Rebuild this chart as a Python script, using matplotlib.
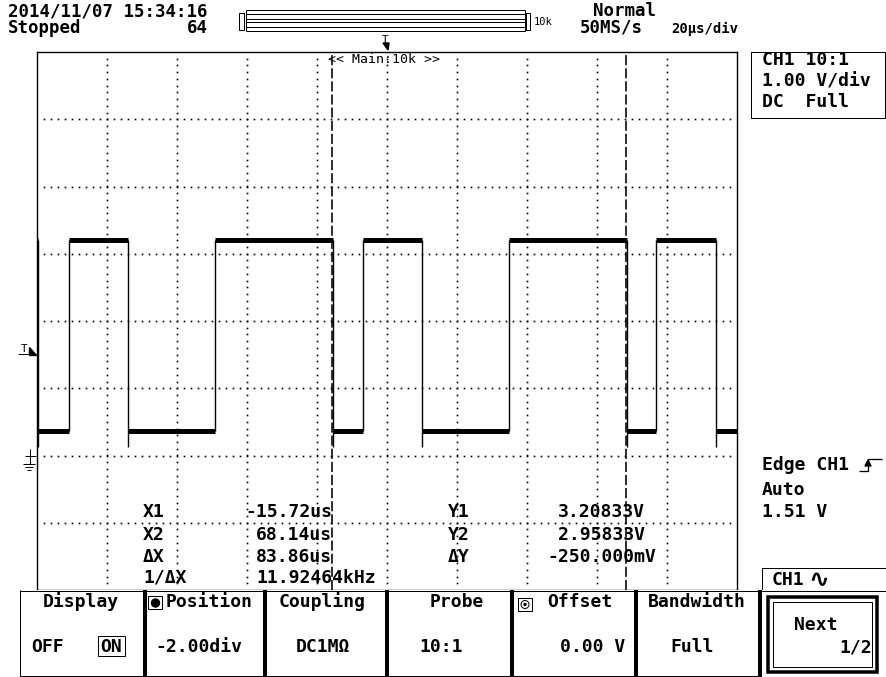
import numpy as np
import matplotlib.pyplot as plt
from matplotlib.patches import Rectangle, Polygon, Circle

# CH1 trace (20 us/div, 1 V/div, ground 2 div below centre)
edge_us = [-99.6, -90.8, -74.1, -49.1, -15.3, -6.9, 9.9, 34.9, 68.5, 76.9, 93.8]
v_high = 3.21
v_low = 0.36
v_under = 0.12      # falling edges ring a little below the low level
cursor_us = [-15.72, 68.14]
trig_v = 1.51
gnd_v = 0.0

cur_labels = ["X1", "X2", "ΔX", "1/ΔX"]
cur_values = ["-15.72us", "68.14us", "83.86us", "11.92464kHz"]
y_labels = ["Y1", "Y2", "ΔY"]
y_values = ["3.20833V", "2.95833V", "-250.000mV"]

ch_info = ["CH1 10:1", "1.00 V/div", "DC  Full"]
trig_info = ["Edge CH1", "Auto", "1.51 V"]

menu_head = ["Display", "Position", "Coupling", "Probe", "Offset", "Bandwidth"]
menu_val = ["OFF", "-2.00div", "DC1MΩ", "10:1", "0.00 V", "Full"]

W, H = 886, 677
PX = 0.72   # points per pixel at dpi 100
MONO = 'DejaVu Sans Mono'

fig = plt.figure(figsize=(W / 100, H / 100), dpi=100)
fig.patch.set_facecolor('white')

# graticule area
gx0, gx1, gy0, gy1 = 36.8, 737.3, 52, 590
ax = fig.add_axes([gx0 / W, 1 - gy1 / H, (gx1 - gx0) / W, (gy1 - gy0) / H])
ax.set_xlim(-100, 100)
ax.set_ylim(-2, 6)
ax.set_xticks([])
ax.set_yticks([])
for s in ax.spines.values():
    s.set_linewidth(1.4 * PX)

# dotted grid, 10 dots per division
vv = np.arange(-1.9, 5.95, 0.1)
for t in range(-80, 81, 20):
    ax.plot(np.full_like(vv, t), vv, ls='none', marker='s', ms=1.2, mew=0, color='k')
tt = np.arange(-98, 99, 2.0)
for v in range(-1, 6):
    ax.plot(tt, np.full_like(tt, v), ls='none', marker='s', ms=1.2, mew=0, color='k')

# trace
bounds = [-100] + edge_us + [100]
levels = [v_high if i % 2 == 0 else v_low for i in range(len(bounds) - 1)]
ax.hlines(levels, bounds[:-1], bounds[1:], color='k', lw=5 * PX)
for i, t in enumerate(edge_us):
    if levels[i] > levels[i + 1]:
        ax.vlines(t, v_under, v_high, color='k', lw=1.4 * PX)
    else:
        ax.vlines(t, v_low, v_high, color='k', lw=1.4 * PX)

# cursors
for c in cursor_us:
    ax.axvline(c, color='k', lw=1.6 * PX, dashes=(6.3, 1.9))

# overlay in screen pixels for all the readouts
ov = fig.add_axes([0, 0, 1, 1], zorder=5)
ov.set_xlim(0, W)
ov.set_ylim(H, 0)
ov.axis('off')


def txt(x, y, s, size=13, ha='left', weight='bold', family=MONO):
    ov.text(x, y, s, fontsize=size, ha=ha, va='baseline', family=family, fontweight=weight)


def seg(xs, ys, lw=1.0):
    ov.plot(xs, ys, color='k', lw=lw * PX, solid_capstyle='butt')


def box(x0, y0, x1, y1, lw=1.0, face='none'):
    ov.add_patch(Rectangle((x0, y0), x1 - x0, y1 - y0, facecolor=face,
                           edgecolor='k', lw=lw * PX))


def y_of(v):
    return ov.transData.inverted().transform(ax.transData.transform((0, v)))[1]


def x_of(t):
    return ov.transData.inverted().transform(ax.transData.transform((t, 0)))[0]


# header
txt(8, 16, "2014/11/07 15:34:16", size=12.5)
txt(8, 33, "Stopped", size=12.5)
txt(187, 33, "64", size=12.5)
txt(593, 16, "Normal", size=12.5)
txt(580, 33, "50MS/s", size=12.5)
txt(671, 33, "20µs/div", size=10)

# record length bar
box(239, 13, 244, 30)
for yy in [9.5, 13.5, 18.5, 21.5, 26.5, 30.5]:
    seg([246, 525], [yy, yy])
seg([246, 246], [9.5, 30.5])
seg([525, 525], [9.5, 30.5])
box(526, 13, 530, 30)
txt(534, 25, "10k", size=7.5, weight='normal')

# trigger position marker
xt = x_of(0)
txt(xt - 2, 43, "T", size=8, weight='normal', ha='center')
ov.add_patch(Polygon([(xt - 4, 43), (xt + 2, 43), (xt + 1, 50)], closed=True, color='k'))
txt(328, 63, "<< Main:10k >>", size=9.5, weight='normal')

# trigger level and ground markers on the left
yt = y_of(trig_v)
txt(24, yt - 2, "T", size=8, weight='normal', ha='center')
seg([18, 36], [yt + 0.5, yt + 0.5])
ov.add_patch(Polygon([(29, yt - 7), (29, yt + 1), (36, yt + 1)], closed=True, color='k'))
yg = y_of(gnd_v)
seg([25, 36], [yg, yg])
seg([30, 30], [yg - 7, yg + 8])
seg([23, 35], [yg + 8, yg + 8])
seg([25, 33], [yg + 11, yg + 11])
seg([27, 31], [yg + 14, yg + 14])

# channel box
box(751, 52, 885, 118)
for i, s in enumerate(ch_info):
    txt(762, 65 + 21 * i, s)

# cursor readout
rows = [517, 540, 562, 583]
for i, (lab, val) in enumerate(zip(cur_labels, cur_values)):
    txt(143, rows[i], lab)
    txt(256 - (11 if val.startswith('-') else 0), rows[i], val)
for i, (lab, val) in enumerate(zip(y_labels, y_values)):
    txt(448, rows[i], lab)
    txt(558 - (11 if val.startswith('-') else 0), rows[i], val)

# trigger settings
for i, s in enumerate(trig_info):
    txt(762, [470, 495, 517][i], s)
seg([859, 868, 868, 882], [471, 471, 459, 459], lw=1.3)
ov.add_patch(Polygon([(865, 466), (871, 466), (868, 460)], closed=True, color='k'))

# CH1 tab
box(762, 568, 886, 590)
txt(772, 585, "CH1")
txt(808, 587, "∿", size=18, weight='bold', family=['DejaVu Sans', MONO])

# soft-key menu
ov.add_patch(Rectangle((20, 590), 866, 87, facecolor='white', edgecolor='none'))
seg([20, 886], [590.5, 590.5])
seg([20, 760], [676, 676])
seg([20.5, 20.5], [590, 676])
for xs in [145, 265, 387, 512.5, 636, 760]:
    seg([xs, xs], [590, 677], lw=4)

head_x = [81, 166, 322, 457, 547, 648]
head_ha = ['center', 'left', 'center', 'center', 'left', 'left']
val_x = [31, 155, 323, 441, 625, 692]
val_ha = ['left', 'left', 'center', 'center', 'right', 'center']
for s, x, ha in zip(menu_head, head_x, head_ha):
    txt(x, 607, s, ha=ha)
for s, x, ha in zip(menu_val, val_x, val_ha):
    txt(x, 652, s, ha=ha)
txt(100, 652, "ON")
box(98, 636, 125, 656)

# knob icons
box(148, 596, 162, 609)
ov.add_patch(Circle((155.5, 603), 4, color='k'))
box(518, 598, 532, 611)
ov.add_patch(Circle((525, 604.5), 4, facecolor='none', edgecolor='k', lw=1 * PX))
ov.add_patch(Circle((525, 604.5), 1, color='k'))

# Next button
box(768, 597, 877, 672, lw=3.5)
box(773, 602, 872, 667, lw=1)
txt(794, 630, "Next")
txt(872, 652, "1/2", ha='right')

fig.savefig('out.png', dpi=100)
